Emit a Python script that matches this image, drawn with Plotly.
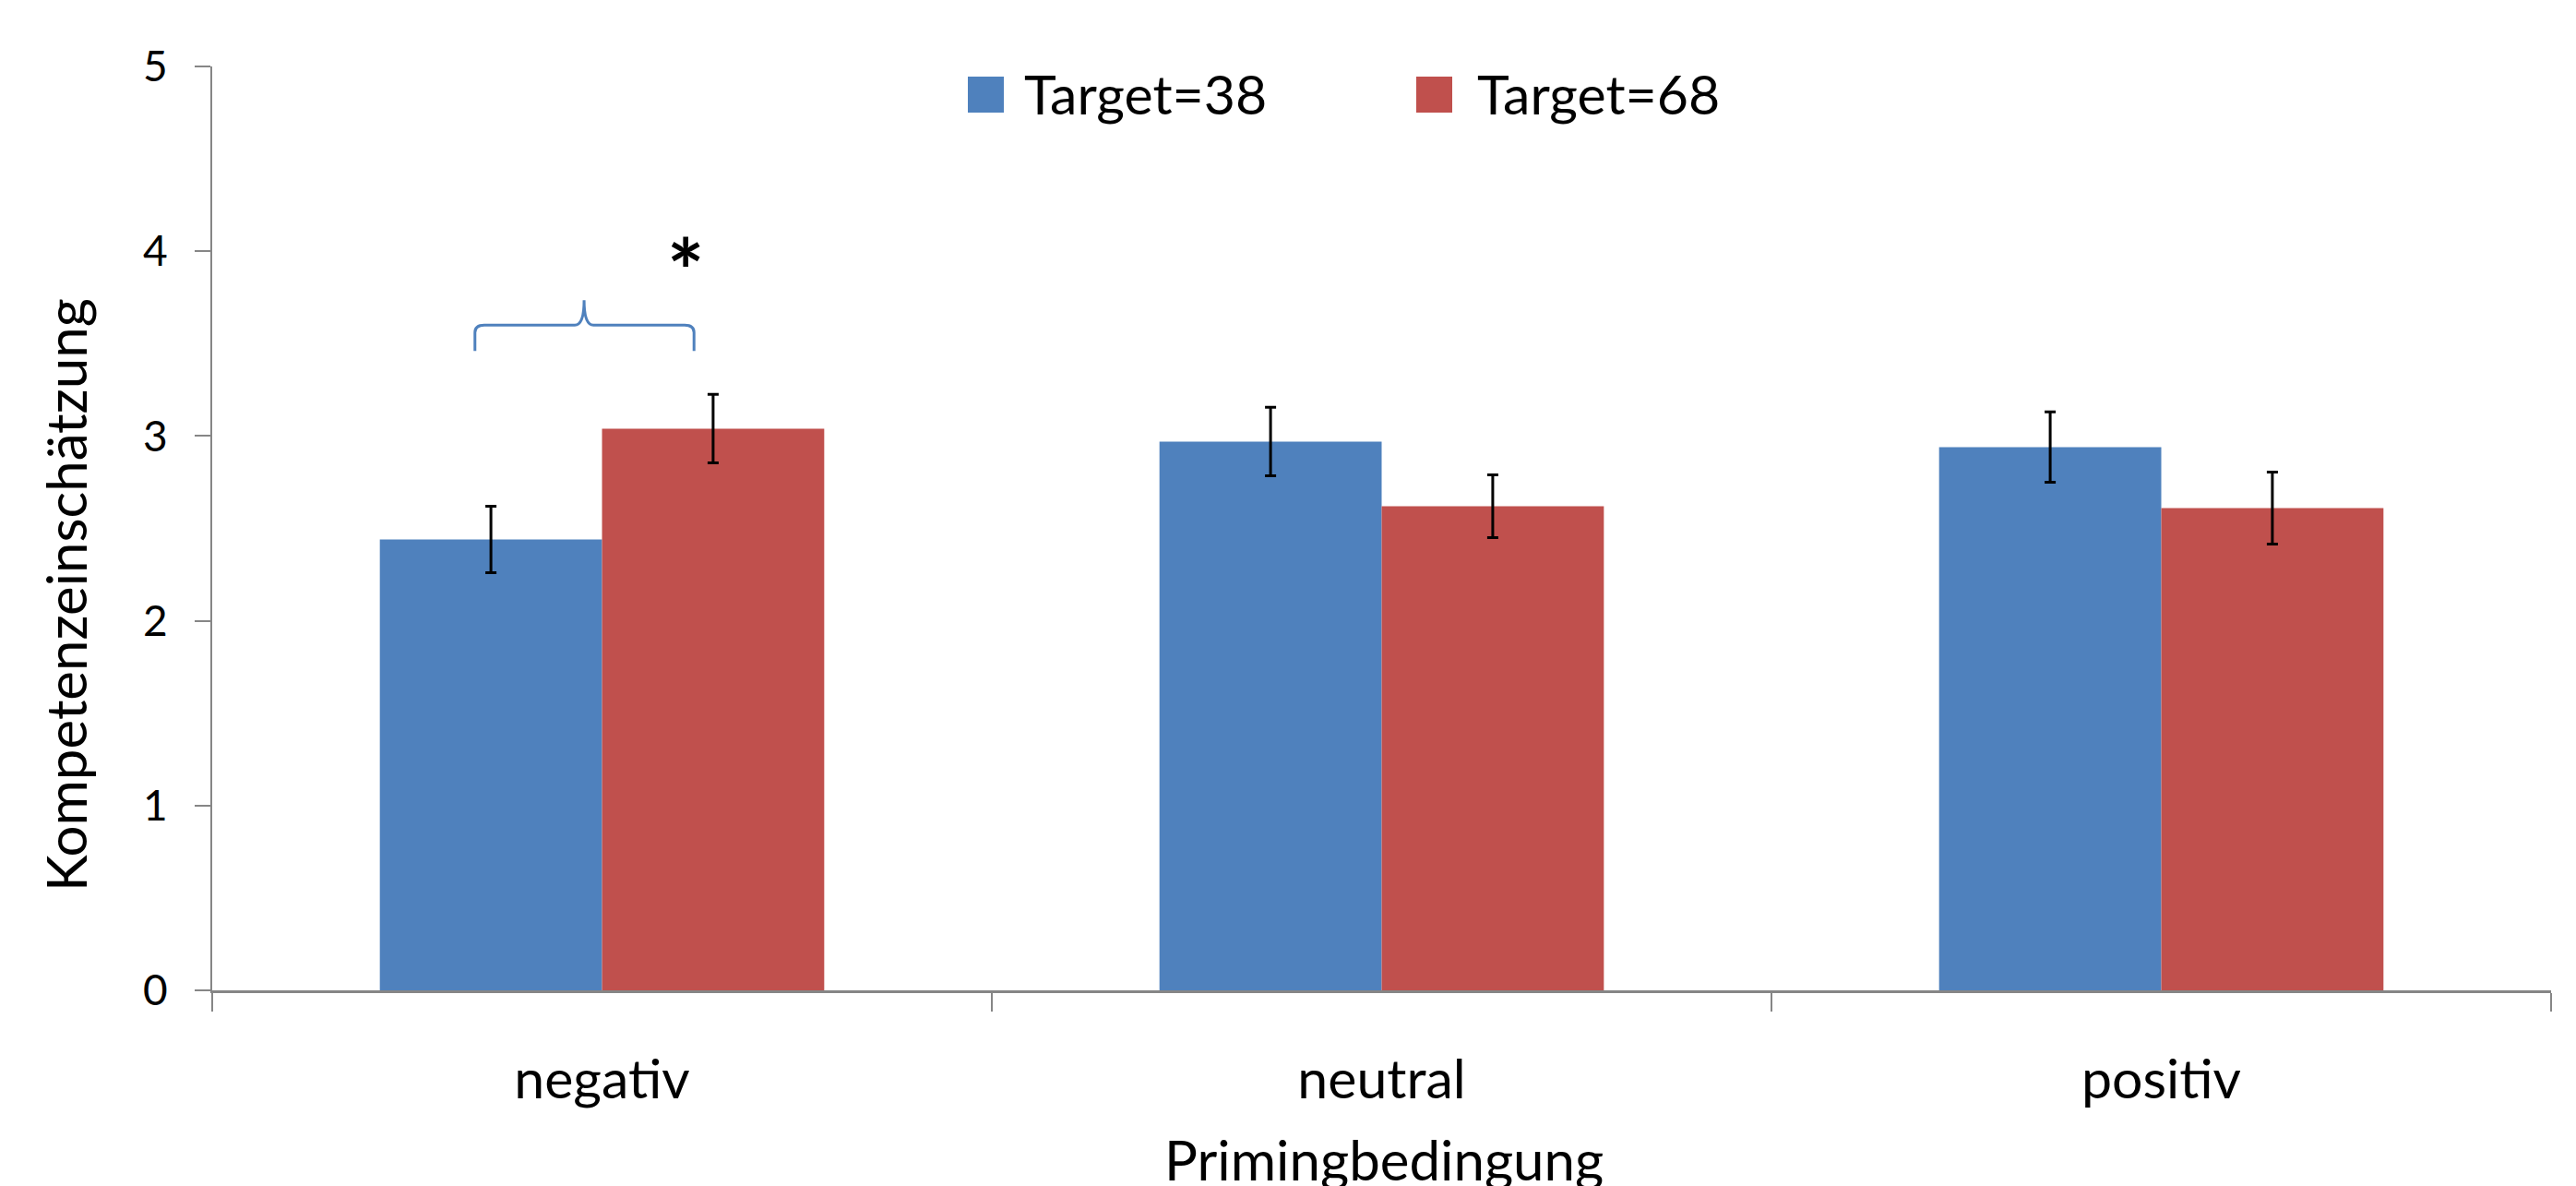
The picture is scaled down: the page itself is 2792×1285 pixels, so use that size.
import plotly.graph_objects as go

categories = ["negativ", "neutral", "positiv"]
series_names = ["Target=38", "Target=68"]
values_38 = [2.44, 2.97, 2.94]
errors_38 = [0.18, 0.185, 0.19]
values_68 = [3.04, 2.62, 2.61]
errors_68 = [0.185, 0.17, 0.195]
y_ticks = [0, 1, 2, 3, 4, 5]

BLUE = "#4F81BD"
RED = "#C0504D"
AXIS = "#868686"
FONT = "Lato"

PAGE_OFFSET = 8  # default body margin of the html page
W, H = 2792 - PAGE_OFFSET, 1285 - PAGE_OFFSET
PLOT_LEFT, PLOT_RIGHT, PLOT_TOP, PLOT_BOTTOM = 230, 2765, 72, 1073  # in screen px
L = PLOT_LEFT - PAGE_OFFSET
R = 2792 - PLOT_RIGHT
T = PLOT_TOP - PAGE_OFFSET
B = 1285 - PLOT_BOTTOM
PW = PLOT_RIGHT - PLOT_LEFT
PH = PLOT_BOTTOM - PLOT_TOP


def px_to_paper_x(px):
    return (px - PLOT_LEFT) / PW


def px_to_paper_y(py):
    return (PLOT_BOTTOM - py) / PH


fig = go.Figure()
fig.add_trace(go.Bar(
    x=categories, y=values_38, name=series_names[0], marker=dict(color=BLUE, line=dict(width=0)),
    error_y=dict(type="data", array=errors_38, color="black", thickness=3, width=6),
))
fig.add_trace(go.Bar(
    x=categories, y=values_68, name=series_names[1], marker=dict(color=RED, line=dict(width=0)),
    error_y=dict(type="data", array=errors_68, color="black", thickness=3, width=6),
))

# curly brace over the "negativ" group (data coordinates: category index, value)
brace = ("M -0.163,3.46 L -0.163,3.56 Q -0.163,3.60 -0.151,3.60 "
         "L -0.035,3.60 Q -0.023,3.60 -0.023,3.735 "
         "Q -0.023,3.60 -0.011,3.60 L 0.106,3.60 "
         "Q 0.118,3.60 0.118,3.56 L 0.118,3.46")
fig.add_shape(type="path", path=brace, xref="x", yref="y",
              line=dict(color=BLUE, width=3), fillcolor="rgba(0,0,0,0)")
fig.add_annotation(x=0.107, y=3.90, xref="x", yref="y", text="<b>*</b>", showarrow=False,
                   font=dict(family=FONT, size=95, color="black"), yanchor="middle", xanchor="center")

# legend drawn manually (top, centered)
legend_items = [(1049, 1108, BLUE, series_names[0]), (1535, 1599, RED, series_names[1])]
for sq_x, txt_x, col, label in legend_items:
    fig.add_shape(type="rect", xref="paper", yref="paper",
                  x0=px_to_paper_x(sq_x), x1=px_to_paper_x(sq_x + 39),
                  y0=px_to_paper_y(122), y1=px_to_paper_y(83),
                  fillcolor=col, line=dict(width=0))
    fig.add_annotation(xref="paper", yref="paper", x=px_to_paper_x(txt_x), y=px_to_paper_y(102),
                       text=label, showarrow=False, xanchor="left", yanchor="middle",
                       font=dict(family=FONT, size=59, color="black"))

# axis titles
fig.add_annotation(xref="paper", yref="paper", x=px_to_paper_x(1500), y=px_to_paper_y(1256),
                   text="Primingbedingung", showarrow=False, xanchor="center", yanchor="middle",
                   font=dict(family=FONT, size=60, color="black"))
fig.add_annotation(xref="paper", yref="paper", x=px_to_paper_x(71), y=px_to_paper_y(645),
                   text="Kompetenzeinschätzung", showarrow=False, textangle=-90,
                   xanchor="center", yanchor="middle",
                   font=dict(family=FONT, size=60, color="black"))

fig.update_layout(
    width=W, height=H,
    margin=dict(l=L, r=R, t=T, b=B, pad=0),
    paper_bgcolor="white", plot_bgcolor="white",
    barmode="group", bargap=0.43, bargroupgap=0,
    showlegend=False,
    font=dict(family=FONT, color="black"),
)
fig.update_xaxes(
    type="category", showgrid=False, zeroline=False,
    showline=True, linecolor=AXIS, linewidth=2.5,
    ticks="outside", tickson="boundaries", ticklen=20, tickwidth=1.5, tickcolor=AXIS,
    tickfont=dict(family=FONT, size=59, color="black"), ticklabelstandoff=43,
)
fig.update_yaxes(
    range=[0, 5], tickvals=y_ticks, showgrid=False, zeroline=False,
    showline=True, linecolor=AXIS, linewidth=2,
    ticks="outside", ticklen=17, tickwidth=1.5, tickcolor=AXIS,
    tickfont=dict(family=FONT, size=46, color="black"), ticklabelstandoff=20,
)

fig.write_html("out.html")
